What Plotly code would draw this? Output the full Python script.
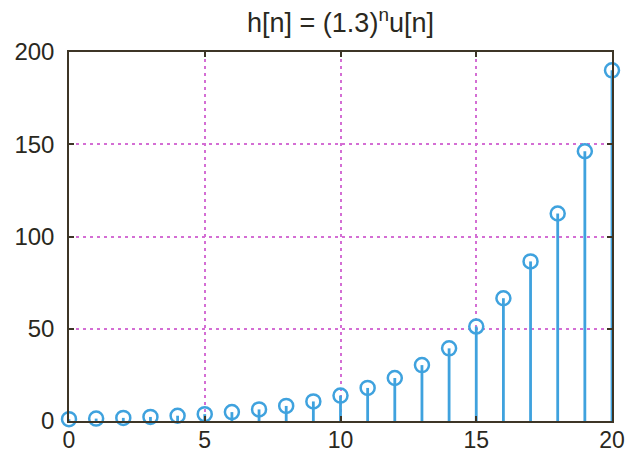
import plotly.graph_objects as go

# Sample index and impulse response h[n] = (1.3)^n u[n]
n = list(range(21))
h = [1.0, 1.3, 1.69, 2.2, 2.86, 3.71, 4.83, 6.27, 8.16, 10.6, 13.79,
     17.92, 23.3, 30.29, 39.37, 51.19, 66.54, 86.5, 112.46, 146.19, 190.05]
x_ticks = [0, 5, 10, 15, 20]
y_ticks = [0, 50, 100, 150, 200]

stem_color = "#3fa2de"
axis_color = "#3d3526"
grid_color = "#d46ed4"
font_family = "Liberation Sans, Arial, sans-serif"

# vertical stems from zero up to each sample
stem_x, stem_y = [], []
for xi, yi in zip(n, h):
    stem_x += [xi, xi, None]
    stem_y += [0, yi, None]

fig = go.Figure()
fig.add_trace(go.Scatter(x=stem_x, y=stem_y, mode="lines",
                         line=dict(color=stem_color, width=2.8),
                         hoverinfo="skip", showlegend=False, cliponaxis=False))
fig.add_trace(go.Scatter(x=n, y=h, mode="markers",
                         marker=dict(symbol="circle-open", size=14,
                                     color=stem_color,
                                     line=dict(color=stem_color, width=2.5)),
                         showlegend=False, cliponaxis=False))

axis_common = dict(showline=True, linecolor=axis_color, linewidth=1.5,
                   mirror="ticks", ticks="inside", ticklen=5, tickwidth=1.5,
                   tickcolor=axis_color, showgrid=True, gridcolor=grid_color,
                   gridwidth=1.5, griddash="3px,4px", zeroline=False,
                   automargin=False)

fig.update_xaxes(range=[0, 20], tickvals=x_ticks, ticklabelstandoff=-2,
                 tickfont=dict(family=font_family, size=23, color="#2a2820"),
                 **axis_common)
fig.update_yaxes(range=[0, 200], tickvals=y_ticks, ticklabelstandoff=8,
                 tickfont=dict(family=font_family, size=24, color="#2a2820"),
                 **axis_common)

fig.update_layout(
    width=631, height=452,
    margin=dict(l=69, r=19, t=52, b=31),
    paper_bgcolor="white", plot_bgcolor="white",
    title=dict(text="h[n] = (1.3)<sup>n</sup>u[n]", x=(69 + 612) / 2 / 631,
               xanchor="center", y=0.95, yanchor="middle",
               font=dict(family=font_family, size=27, color="#2a2820")),
)

fig.write_html("out.html")
